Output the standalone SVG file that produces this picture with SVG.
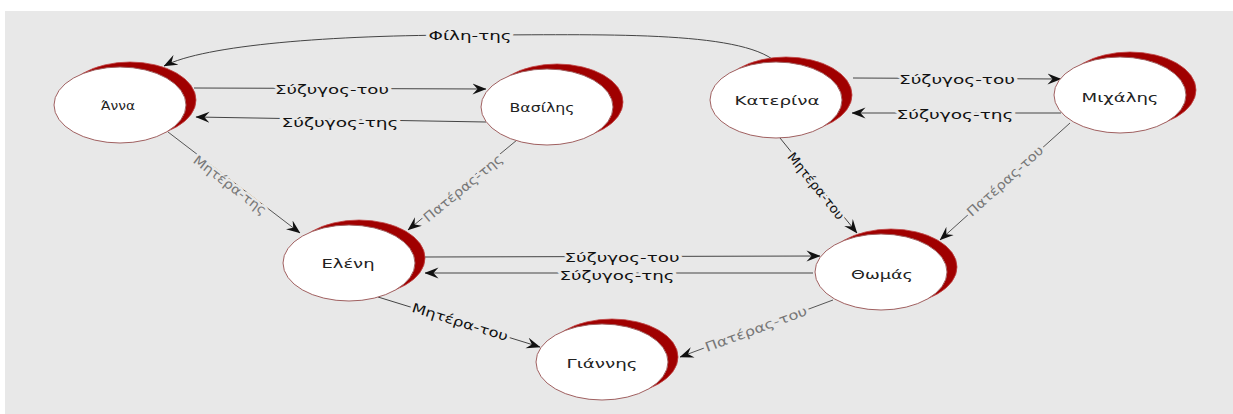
<svg xmlns="http://www.w3.org/2000/svg" width="1233" height="414" viewBox="0 0 1233 414">
<defs>
<style>
.bg{fill:#e8e8e8}
.shadow{fill:#a00000;stroke:#c04040;stroke-width:0.8}
.body{fill:#ffffff;stroke:#a06060;stroke-width:1}
.nl{font-family:"DejaVu Sans",sans-serif;font-size:13px;fill:#222;text-anchor:middle}
.e{fill:none;stroke:#444;stroke-width:1}
.eg{fill:none;stroke:#555;stroke-width:1}
.lb{font-family:"DejaVu Sans",sans-serif;font-size:13px;fill:#111;text-anchor:middle;paint-order:stroke;stroke:#e8e8e8;stroke-width:5;stroke-linejoin:round}
.lg{font-family:"DejaVu Sans",sans-serif;font-size:13px;fill:#777;text-anchor:middle;paint-order:stroke;stroke:#e8e8e8;stroke-width:5;stroke-linejoin:round}
</style>
<marker id="arr" viewBox="0 0 14 12" refX="13.5" refY="6" markerWidth="14" markerHeight="12" orient="auto" markerUnits="userSpaceOnUse">
<path d="M0,0.5 L14,6 L0,11.5 L5,6 z" fill="#111"/>
</marker>
</defs>
<rect x="0" y="0" width="1233" height="414" fill="#ffffff"/>
<rect class="bg" x="5" y="11" width="1228" height="403"/>

<g id="connectors">
<path class="e" d="M776,62 C740,30 600,35 470,35 C330,35 205,45 164,66" marker-end="url(#arr)"/>
<text class="lb" x="470" y="35" dy=".35em" textLength="83" lengthAdjust="spacingAndGlyphs">Φίλη-της</text>

<path class="e" d="M194,88 L486,89" marker-end="url(#arr)"/>
<text class="lb" x="332" y="89" dy=".35em" textLength="114" lengthAdjust="spacingAndGlyphs">Σύζυγος-του</text>
<path class="e" d="M486,122 L196,117" marker-end="url(#arr)"/>
<text class="lb" x="340" y="122" dy=".35em" textLength="117" lengthAdjust="spacingAndGlyphs">Σύζυγος-της</text>

<path class="eg" d="M168,132 L300,233" marker-end="url(#arr)"/>
<text class="lg" transform="translate(230,185) rotate(37.4)" dy=".35em" textLength="88" lengthAdjust="spacingAndGlyphs">Μητέρα-της</text>
<path class="eg" d="M517,140 L408,230" marker-end="url(#arr)"/>
<text class="lg" transform="translate(463,188) rotate(-39.5)" dy=".35em" textLength="98" lengthAdjust="spacingAndGlyphs">Πατέρας-της</text>

<path class="e" d="M853,78 L1061,79" marker-end="url(#arr)"/>
<text class="lb" x="957" y="79" dy=".35em" textLength="116" lengthAdjust="spacingAndGlyphs">Σύζυγος-του</text>
<path class="e" d="M1061,113 L852,113" marker-end="url(#arr)"/>
<text class="lb" x="955" y="114" dy=".35em" textLength="117" lengthAdjust="spacingAndGlyphs">Σύζυγος-της</text>

<path class="e" d="M780,138 L857,233" marker-end="url(#arr)"/>
<text class="lb" transform="translate(816,186) rotate(51)" dy=".35em" textLength="82" lengthAdjust="spacingAndGlyphs">Μητέρα-του</text>
<path class="eg" d="M1070,123 L940,240" marker-end="url(#arr)"/>
<text class="lg" transform="translate(1005,181) rotate(-42)" dy=".35em" textLength="98" lengthAdjust="spacingAndGlyphs">Πατέρας-του</text>

<path class="e" d="M424,257 L820,256" marker-end="url(#arr)"/>
<text class="lb" x="622" y="257" dy=".35em" textLength="115" lengthAdjust="spacingAndGlyphs">Σύζυγος-του</text>
<path class="e" d="M813,273 L425,273" marker-end="url(#arr)"/>
<text class="lb" x="617" y="275" dy=".35em" textLength="115" lengthAdjust="spacingAndGlyphs">Σύζυγος-της</text>

<path class="e" d="M378,297 L540,347" marker-end="url(#arr)"/>
<text class="lb" transform="translate(460,322) rotate(17.2)" dy=".35em" textLength="100" lengthAdjust="spacingAndGlyphs">Μητέρα-του</text>
<path class="eg" d="M833,300 L680,357" marker-end="url(#arr)"/>
<text class="lg" transform="translate(756,329) rotate(-20.4)" dy=".35em" textLength="108" lengthAdjust="spacingAndGlyphs">Πατέρας-του</text>
</g>

<g id="node-anna">
<ellipse class="shadow" cx="130" cy="100" rx="66" ry="38"/>
<ellipse class="body" cx="120" cy="105" rx="66" ry="38"/>
<text class="nl" x="118" y="105" dy=".35em" textLength="34" lengthAdjust="spacingAndGlyphs">Άννα</text>
</g>
<g id="node-vasilis">
<ellipse class="shadow" cx="557" cy="102" rx="66" ry="38"/>
<ellipse class="body" cx="547" cy="107" rx="66" ry="38"/>
<text class="nl" x="542" y="107" dy=".35em" textLength="65" lengthAdjust="spacingAndGlyphs">Βασίλης</text>
</g>
<g id="node-katerina">
<ellipse class="shadow" cx="786" cy="95" rx="66" ry="38"/>
<ellipse class="body" cx="776" cy="100" rx="66" ry="38"/>
<text class="nl" x="777" y="100" dy=".35em" textLength="85" lengthAdjust="spacingAndGlyphs">Κατερίνα</text>
</g>
<g id="node-michalis">
<ellipse class="shadow" cx="1130" cy="90" rx="66" ry="38"/>
<ellipse class="body" cx="1120" cy="95" rx="66" ry="38"/>
<text class="nl" x="1120" y="97" dy=".35em" textLength="77" lengthAdjust="spacingAndGlyphs">Μιχάλης</text>
</g>
<g id="node-eleni">
<ellipse class="shadow" cx="359" cy="258" rx="66" ry="38"/>
<ellipse class="body" cx="349" cy="263" rx="66" ry="38"/>
<text class="nl" x="348" y="263" dy=".35em" textLength="53" lengthAdjust="spacingAndGlyphs">Ελένη</text>
</g>
<g id="node-thomas">
<ellipse class="shadow" cx="891" cy="267" rx="66" ry="38"/>
<ellipse class="body" cx="881" cy="272" rx="66" ry="38"/>
<text class="nl" x="882" y="274" dy=".35em" textLength="62" lengthAdjust="spacingAndGlyphs">Θωμάς</text>
</g>
<g id="node-giannis">
<ellipse class="shadow" cx="612" cy="357" rx="66" ry="38"/>
<ellipse class="body" cx="602" cy="362" rx="66" ry="38"/>
<text class="nl" x="602" y="363" dy=".35em" textLength="71" lengthAdjust="spacingAndGlyphs">Γιάννης</text>
</g>
</svg>
